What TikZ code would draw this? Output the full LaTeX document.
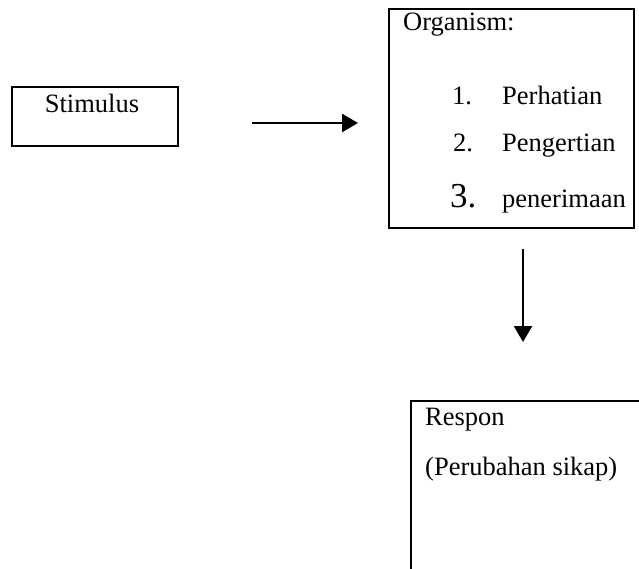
\documentclass[tikz,border=0pt]{standalone}
\usepackage{fontspec}
\setmainfont{Liberation Serif}
\usetikzlibrary{arrows.meta}
\begin{document}
\begin{tikzpicture}[x=1pt,y=-1pt,
  box/.style={draw=black,line width=2.5pt,inner sep=0pt,outer sep=0pt},
  txt/.style={inner sep=0pt,anchor=base west,font=\fontsize{26.5}{30}\selectfont},
  bigtxt/.style={inner sep=0pt,anchor=base west,font=\fontsize{35}{40}\selectfont},
  conn/.style={line width=2.5pt,-{Triangle[width=18pt,length=16pt]}}]
\clip (0,0) rectangle (639,569);
\fill[white] (0,0) rectangle (639,569);
% Stimulus box
\node[box,minimum width=166pt,minimum height=59pt] (stim) at (95,116.5) {};
\node[txt,anchor=base] (stimt) at (92,113) {Stimulus};
% Organism box
\node[box,minimum width=245pt,minimum height=219pt] (org) at (511.5,118.5) {};
\node[txt] (orgt) at (403,31) {Organism:};
\node[txt] (n1) at (452,105) {1.};
\node[txt] (i1) at (502,105) {Perhatian};
\node[txt] (n2) at (453,152) {2.};
\node[txt] (i2) at (502,152) {Pengertian};
\node[bigtxt] (n3) at (450,208) {3.};
\node[txt] (i3) at (502,208) {penerimaan};
% Respon box (extends beyond the picture)
\node[box,minimum width=300pt,minimum height=250pt,anchor=north west] (resp) at (411,401) {};
\node[txt] (respt) at (425,425) {Respon};
\node[txt] (resps) at (425,475) {(Perubahan sikap)};
% arrows
\coordinate (a1s) at (252,123);
\coordinate (a1e) at (358,123);
\coordinate (a2s) at (523,249);
\coordinate (a2e) at (523,342);
\draw[conn] (a1s) -- (a1e);
\draw[conn] (a2s) -- (a2e);
\end{tikzpicture}
\end{document}
